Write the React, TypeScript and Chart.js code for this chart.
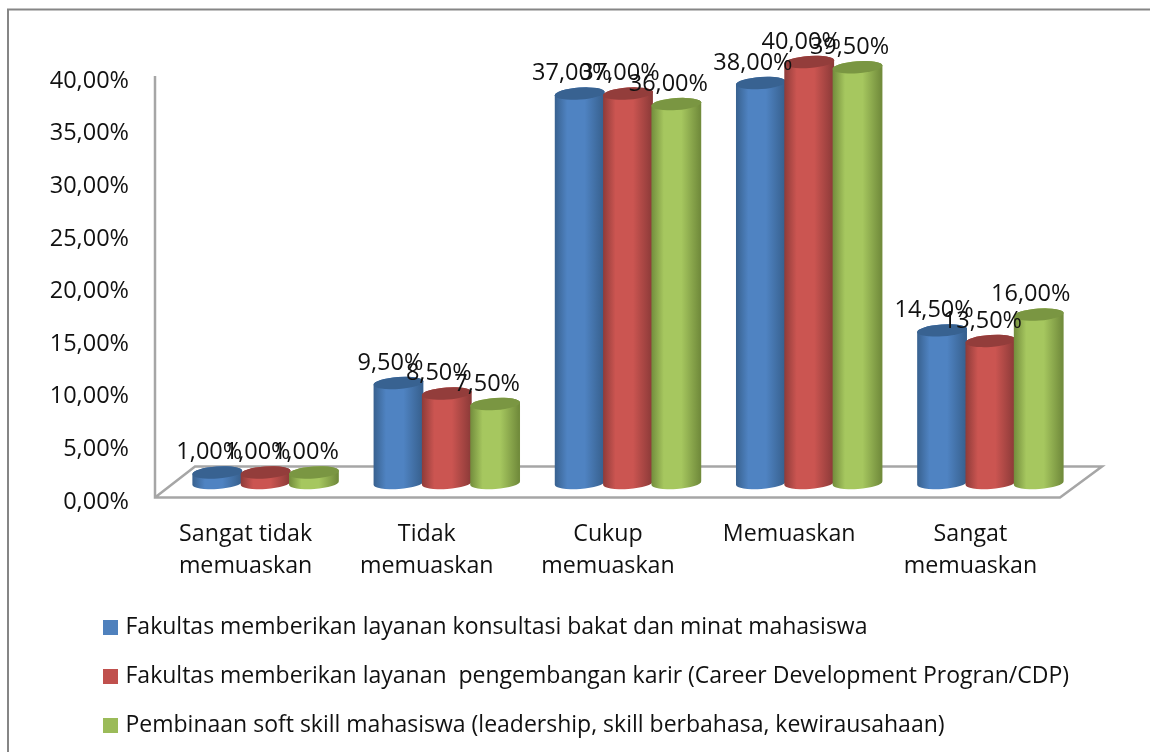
import React, { useEffect, useRef } from "react";
import { Chart, registerables } from "chart.js";

Chart.register(...registerables);

const categories = [["Sangat tidak", "memuaskan"], ["Tidak", "memuaskan"], ["Cukup", "memuaskan"], ["Memuaskan"], ["Sangat", "memuaskan"]];
const seriesNames = [
  "Fakultas memberikan layanan konsultasi bakat dan minat mahasiswa",
  "Fakultas memberikan layanan  pengembangan karir (Career Development Progran/CDP)",
  "Pembinaan soft skill mahasiswa (leadership, skill berbahasa, kewirausahaan)",
];
const konsultasi = [1, 9.5, 37, 38, 14.5];
const karir = [1, 8.5, 37, 40, 13.5];
const softSkill = [1, 7.5, 36, 39.5, 16];

const colors = ["#4f81bd", "#c0504d", "#9bbb59"];
const shades = [
  { edge: "#38618f", mid: "#4f83c2", top: "#386291" },
  { edge: "#8e3b39", mid: "#cb5551", top: "#933d3b" },
  { edge: "#728c3c", mid: "#a6c75f", top: "#7a9642" },
];
const FONT = "'Open Sans', sans-serif";
const AXIS = "#a6a6a6";
const pct = (v: number) => v.toFixed(2).replace(".", ",") + "%";

const cylinders = {
  id: "cylinders",
  afterLayout(chart: any) {
    chart.legend.left = 104 - 23;
  },
  beforeDraw(chart: any) {
    const { ctx, chartArea, scales } = chart;
    const zero = scales.y.getPixelForValue(0);
    const top = scales.y.getPixelForValue(40);
    ctx.save();
    ctx.strokeStyle = "#868686";
    ctx.lineWidth = 2;
    ctx.beginPath();
    ctx.moveTo(8, 752);
    ctx.lineTo(8, 9.5);
    ctx.lineTo(1150, 9.5);
    ctx.stroke();
    ctx.strokeStyle = AXIS;
    ctx.lineWidth = 2.5;
    ctx.beginPath();
    ctx.moveTo(chartArea.left - 20, top + 14);
    ctx.lineTo(chartArea.left - 20, zero + 14.5);
    ctx.lineTo(chartArea.right - 21, zero + 14.5);
    ctx.lineTo(chartArea.right + 21, zero - 16.5);
    ctx.lineTo(chartArea.left + 20, zero - 16.5);
    ctx.lineTo(chartArea.left - 20, zero + 14.5);
    ctx.stroke();
    ctx.restore();
  },
  afterDatasetsDraw(chart: any) {
    const { ctx } = chart;
    const rot = -0.07;
    const ry = 6;
    ctx.save();
    chart.data.datasets.forEach((_: any, d: number) => {
      const s = shades[d];
      chart.getDatasetMeta(d).data.forEach((el: any) => {
        const r = el.width / 2 + 0.8;
        const g = ctx.createLinearGradient(el.x - r, 0, el.x + r, 0);
        g.addColorStop(0, s.edge);
        g.addColorStop(0.25, s.mid);
        g.addColorStop(0.6, s.mid);
        g.addColorStop(0.97, s.edge);
        g.addColorStop(1, s.edge);
        ctx.beginPath();
        ctx.ellipse(el.x, el.base, r, ry, rot, 0, Math.PI);
        ctx.ellipse(el.x, el.y, r, ry, rot, Math.PI, Math.PI * 2);
        ctx.closePath();
        ctx.fillStyle = g;
        ctx.fill();
        ctx.beginPath();
        ctx.ellipse(el.x, el.y, r, ry, rot, 0, Math.PI * 2);
        ctx.fillStyle = s.top;
        ctx.fill();
      });
    });
    ctx.fillStyle = "#111";
    ctx.font = `23.5px ${FONT}`;
    ctx.textAlign = "center";
    ctx.textBaseline = "middle";
    chart.data.datasets.forEach((ds: any, d: number) => {
      chart.getDatasetMeta(d).data.forEach((el: any, i: number) => {
        ctx.fillText(pct(ds.data[i]), el.x - 8, el.y - 20);
      });
    });
    ctx.restore();
  },
};

export default function App() {
  const ref = useRef<HTMLCanvasElement>(null);
  useEffect(() => {
    const chart = new Chart(ref.current!, {
      type: "bar",
      data: {
        labels: categories as any,
        datasets: [konsultasi, karir, softSkill].map((data, i) => ({
          label: seriesNames[i],
          data,
          backgroundColor: colors[i],
          barPercentage: 1,
          categoryPercentage: 0.8,
        })),
      },
      options: {
        responsive: false,
        animation: false,
        events: [],
        layout: { autoPadding: false, padding: { left: 40, right: 69, top: 62, bottom: 5 } },
        scales: {
          x: {
            grid: { display: false },
            border: { display: false },
            afterFit: (s: any) => { s.height = 107; },
            ticks: {
              color: "#111",
              font: { family: FONT, size: 23.2, lineHeight: 1.38 },
              labelOffset: -20,
              maxRotation: 0,
              autoSkip: false,
              padding: 27,
            },
          },
          y: {
            min: 0,
            max: 40,
            grid: { display: false, drawTicks: false },
            border: { display: false },
            afterFit: (s: any) => { s.width = 135; },
            ticks: {
              stepSize: 5,
              color: "#111",
              font: { family: FONT, size: 23.5 },
              padding: 46,
              labelOffset: 19,
              callback: (v: any) => pct(Number(v)),
            },
          },
        },
        plugins: {
          tooltip: { enabled: false },
          legend: {
            position: "bottom",
            align: "start",
            labels: {
              color: "#111",
              font: { family: FONT, size: 23 },
              boxWidth: 7,
              boxHeight: 7,
              padding: 26,
              generateLabels: (c: any) =>
                Chart.defaults.plugins.legend.labels.generateLabels(c).map((l: any) => ({
                  ...l,
                  lineWidth: 8,
                  strokeStyle: l.fillStyle,
                })),
            },
          },
        },
      } as any,
      plugins: [cylinders],
    });
    return () => chart.destroy();
  }, []);
  return <canvas ref={ref} width={1150} height={752} style={{ position: "fixed", left: 0, top: 0, display: "block" }} />;
}
